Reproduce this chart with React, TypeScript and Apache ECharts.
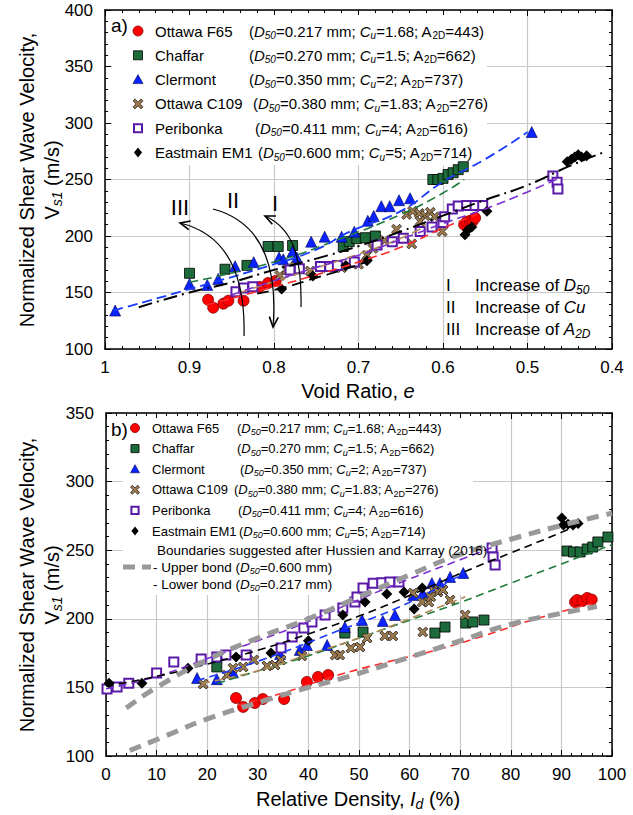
import React, { useEffect, useRef } from "react";
import * as echarts from "echarts";

const FONT = '"Liberation Sans", Arial, sans-serif';

// ---------- Panel a) : Vs1 vs void ratio e ----------
const eF65 = [[0.878,143.6],[0.872,136.6],[0.86,140.1],[0.854,142.7],[0.836,142.7],[0.817,154.9],[0.807,158.4],[0.798,160.2],[0.575,210],[0.572,212.5],[0.568,213.4],[0.565,213],[0.562,216]];
const eChaffar = [[0.9,167],[0.858,170.6],[0.832,174],[0.807,190.7],[0.795,190.7],[0.778,191.6],[0.718,190.7],[0.711,195],[0.702,197.7],[0.692,198.5],[0.68,200],[0.612,250],[0.606,250],[0.6,251],[0.594,254.4],[0.588,256],[0.582,258.7],[0.576,261.3]];
const eClermont = [[0.988,134],[0.9,157.6],[0.879,156.7],[0.866,162],[0.846,173.3],[0.824,176.8],[0.794,181],[0.789,179.4],[0.778,186.3],[0.773,181],[0.756,195],[0.74,199.4],[0.72,199.4],[0.705,203.8],[0.689,213.4],[0.682,217.7],[0.673,226.4],[0.663,226.4],[0.652,231.7],[0.639,233.4],[0.495,292]];
const eC109 = [[0.793,165],[0.785,170],[0.775,173],[0.757,169],[0.737,172],[0.72,172],[0.7,175],[0.69,183],[0.683,189],[0.669,196],[0.655,206],[0.643,219],[0.636,222],[0.628,220],[0.621,218],[0.615,221],[0.61,217],[0.637,193],[0.601,204],[0.627,213]];
const ePeribonka = [[0.845,150.6],[0.836,154],[0.825,155],[0.781,170],[0.77,171],[0.745,173],[0.734,173],[0.725,174],[0.705,177],[0.678,192],[0.66,195],[0.647,198],[0.627,204],[0.613,208],[0.6,212],[0.598,217],[0.589,224],[0.582,226.5],[0.572,227],[0.562,227],[0.553,227],[0.47,253],[0.465,247.6],[0.464,241.5]];
const eEastmain = [[0.791,153],[0.754,164.5],[0.715,174],[0.69,178],[0.574,201],[0.571,205],[0.566,208],[0.548,222],[0.453,265.7],[0.448,268],[0.444,270],[0.44,271.8],[0.436,270],[0.43,271]];

const eFitF65 = [[0.88,139],[0.8,155],[0.73,170],[0.7,177],[0.65,190],[0.6,207],[0.56,219]];
const eFitChaffar = [[0.9,159],[0.8,177],[0.72,198],[0.65,219],[0.6,238],[0.575,250]];
const eFitClermont = [[0.99,134],[0.9,153],[0.8,175],[0.75,188],[0.71,204],[0.65,222],[0.6,248],[0.55,268],[0.5,292]];
const eFitC109 = [[0.84,150],[0.77,167],[0.7,184],[0.65,198],[0.62,209]];
const eFitPeribonka = [[0.85,148],[0.76,170],[0.7,183],[0.65,197],[0.6,211],[0.55,224],[0.5,239],[0.46,252]];
const eFitEastmain = [[0.96,137],[0.9,150],[0.85,159],[0.8,170],[0.75,180],[0.7,191],[0.65,204],[0.6,218],[0.55,232],[0.5,245],[0.45,262],[0.41,274]];
const eFitLowerBlack = [[0.82,149],[0.79,154],[0.75,163],[0.71,172],[0.68,180]];

// ---------- Panel b) : Vs1 vs relative density Id ----------
const dF65 = [[25.7,142.3],[27.1,135.8],[29.4,138.6],[31,141.5],[35.2,141.5],[39.7,154],[41.9,157.6],[43.9,159],[92.7,212.2],[93.1,213.7],[94.2,213],[95.1,215.2],[96,214]];
const dChaffar = [[21.9,164.9],[47.2,189.6],[50.8,190.3],[65,189.6],[67,194],[71.1,196.9],[72.5,197.7],[74.7,199.1],[91.1,249.4],[92.4,248.7],[93.7,248.7],[95.1,250.9],[96.2,252.3],[97.2,256],[99.2,259.6]];
const dClermont = [[18,156.8],[21.9,156],[25.1,161],[34.4,174.3],[38.3,177.3],[39.7,180.9],[43.7,180.9],[47.2,194],[50.6,199.1],[54.7,198.4],[57.1,202.8],[60.7,217.3],[62.6,218.8],[64.4,226],[66,226],[68,230.5],[70.6,233.4]];
const dC109 = [[19.2,152.5],[23.9,159],[25.1,164],[27.1,164.9],[29.2,170],[31.8,165.6],[33.4,166.3],[34.6,170],[38.7,172.9],[45.3,173.6],[46.2,173.6],[48.4,178.7],[50.2,179.4],[51.6,186],[55.1,187.5],[56.7,187.5],[62.6,190.4],[71,202.8],[60.7,218.8],[62.5,212.2],[63.8,212.2],[64.6,221],[65.6,219.5],[66.6,221],[68,213.7],[64.2,216]];
const dPeribonka = [[0.2,148.8],[2.2,150.3],[4.5,153],[10,160.5],[13.4,168.5],[18.8,170.7],[21.9,172.2],[23.7,173.6],[27.7,173.6],[34.6,178.7],[36.8,186.7],[39.1,193.3],[40.7,197.7],[43.3,202.8],[46.8,207.9],[49.2,212.2],[49.6,215.9],[50.8,222.4],[52.8,226],[54.5,226.3],[56.1,226.8],[57.9,226.8],[76.3,251.6],[76.5,245],[76.9,239.2]];
const dEastmain = [[0.6,153],[7.1,153],[16.2,164],[25.7,172.2],[32.6,175],[40,184],[46.8,202.8],[51.2,212.2],[55.5,218.1],[58.9,219.5],[60.9,207.1],[62.5,222.4],[90.1,273.5],[90.4,268.4],[91.3,268.9],[92.3,268.4],[93.3,269.5]];

const dFitF65 = [[26,137],[35,146],[45,158],[55,168],[65,177],[75,188],[85,200],[96,211]];
const dFitChaffar = [[22,153],[30,162],[40,173],[50,186],[60,199],[70,212],[80,226],[90,240],[100,254]];
const dFitClermont = [[18,155],[30,169],[45,190],[60,212],[71,234]];
const dFitC109 = [[19,153],[30,162],[40,174],[50,186],[60,200],[71,216]];
const dFitPeribonka = [[0,149],[10,158],[20,171],[30,184],[40,198],[50,214],[60,229],[70,243],[77,253]];
const dFitEastmain = [[0,151],[10,158],[20,167],[30,177],[40,189],[50,202],[60,217],[70,233],[80,248],[90,263],[93,268]];
const dUpperBound = [[4,135],[10,150],[20,170],[30,186],[40,200],[50,216],[60,232],[70,247],[80,258],[90,268],[100,277]];
const dLowerBound = [[4.7,104],[12,115],[20,127],[31,140],[40,150],[48,158],[60,172],[70,184],[80,196],[90,204],[97,209]];

const C = {
  red: "#ff0000",
  green: "#1d6b3a",
  blue: "#0a22ff",
  brown: "#9c7a4c",
  purple: "#5a1aa8",
  black: "#000000",
};
const FIT = {
  red: "#ff2a2a",
  green: "#1e7a3c",
  blue: "#1a3cff",
  brown: "#b08a5a",
  purple: "#7b2fd0",
};

const XPATH = "path://M2,0 L5,3 L8,0 L10,2 L7,5 L10,8 L8,10 L5,7 L2,10 L0,8 L3,5 L0,2 Z";
const XPTS = [[2,0],[5,3],[8,0],[10,2],[7,5],[10,8],[8,10],[5,7],[2,10],[0,8],[3,5],[0,2]];

function makeAxes(gi: number, min: number, max: number, interval: number, isX: boolean, inverse: boolean, fmt?: (v: number) => string) {
  const common = {
    gridIndex: gi,
    type: "value",
    min,
    max,
    interval,
    inverse,
    axisLine: { show: true, onZero: false, lineStyle: { color: "#000", width: 1.5 } },
    axisTick: { show: true, inside: true, length: 6, lineStyle: { color: "#000", width: 1 } },
    minorTick: { show: true, splitNumber: 5, length: 3, lineStyle: { color: "#000", width: 1 } },
  };
  const main = {
    ...common,
    position: isX ? "bottom" : "left",
    axisLabel: {
      show: true,
      fontFamily: FONT,
      fontSize: 17,
      color: "#000",
      margin: isX ? 10 : 12,
      formatter: fmt,
    },
    splitLine: { show: true, lineStyle: { color: "#c8c8c8", width: 1.2 } },
  };
  const mirror = {
    ...common,
    position: isX ? "top" : "right",
    axisLabel: { show: false },
    splitLine: { show: false },
  };
  return [main, mirror];
}

function scatter(name: string, data: number[][], xi: number, yi: number, symbol: string, size: number, color: string, border: string, bw: number) {
  return {
    name,
    type: "scatter",
    xAxisIndex: xi,
    yAxisIndex: yi,
    data,
    symbol,
    symbolSize: size,
    itemStyle: { color, borderColor: border, borderWidth: bw, opacity: 1 },
    z: 3,
  };
}

function fit(data: number[][], xi: number, yi: number, color: string, width: number, dash: any, z = 4) {
  return {
    type: "line",
    xAxisIndex: xi,
    yAxisIndex: yi,
    data,
    smooth: true,
    symbol: "none",
    showSymbol: false,
    silent: true,
    lineStyle: { color, width, type: dash, cap: "butt" },
    z,
  };
}

function legendSymbol(kind: string, cx: number, cy: number, s: number): any {
  const h = s / 2;
  switch (kind) {
    case "circle":
      return { type: "circle", shape: { cx, cy, r: h }, style: { fill: C.red, stroke: "#800000", lineWidth: 0.8 }, z: 10 };
    case "square":
      return { type: "rect", shape: { x: cx - h * 0.9, y: cy - h * 0.9, width: s * 0.9, height: s * 0.9 }, style: { fill: C.green, stroke: "#000", lineWidth: 0.8 }, z: 10 };
    case "triangle":
      return { type: "polygon", shape: { points: [[cx, cy - h], [cx + h, cy + h * 0.8], [cx - h, cy + h * 0.8]] }, style: { fill: C.blue, stroke: "#000050", lineWidth: 0.6 }, z: 10 };
    case "x":
      return { type: "polygon", shape: { points: XPTS.map(([a, b]) => [cx - h + (a / 10) * s, cy - h + (b / 10) * s]) }, style: { fill: C.brown, stroke: "#222", lineWidth: 0.8 }, z: 10 };
    case "hollow":
      return { type: "rect", shape: { x: cx - h * 0.8, y: cy - h * 0.8, width: s * 0.8, height: s * 0.8 }, style: { fill: "#fff", stroke: C.purple, lineWidth: 2 }, z: 10 };
    default:
      return { type: "polygon", shape: { points: [[cx, cy - h], [cx + h * 0.8, cy], [cx, cy + h], [cx - h * 0.8, cy]] }, style: { fill: "#000" }, z: 10 };
  }
}

function richStyles(fs: number) {
  const sub = Math.round(fs * 0.68);
  return {
    n: { fontFamily: FONT, fontSize: fs, color: "#000", lineHeight: fs + 4 },
    i: { fontFamily: FONT, fontSize: fs, fontStyle: "italic", color: "#000", lineHeight: fs + 4 },
    s: { fontFamily: FONT, fontSize: sub, color: "#000", verticalAlign: "bottom", lineHeight: sub },
    si: { fontFamily: FONT, fontSize: sub, fontStyle: "italic", color: "#000", verticalAlign: "bottom", lineHeight: sub },
  };
}

function text(x: number, y: number, str: string, fs: number, extra: any = {}): any {
  return {
    type: "text",
    x,
    y,
    z: 10,
    ...extra,
    style: {
      text: str,
      rich: richStyles(fs),
      fontFamily: FONT,
      fontSize: fs,
      fill: "#000",
      align: "left",
      verticalAlign: "middle",
      ...(extra.style || {}),
    },
  };
}

function propsText(d50: string, cu: string, a2d: string) {
  return `{n|(}{i|D}{si|50}{n|=${d50} mm; }{i|C}{si|u}{n|=${cu}; A}{s|2D}{n|=${a2d})}`;
}

const legendRows = [
  { kind: "circle", name: "Ottawa F65", d50: "0.217", cu: "1.68", a2d: "443" },
  { kind: "square", name: "Chaffar", d50: "0.270", cu: "1.5", a2d: "662" },
  { kind: "triangle", name: "Clermont", d50: "0.350", cu: "2", a2d: "737" },
  { kind: "x", name: "Ottawa C109", d50: "0.380", cu: "1.83", a2d: "276" },
  { kind: "hollow", name: "Peribonka", d50: "0.411", cu: "4", a2d: "616" },
  { kind: "diamond", name: "Eastmain EM1", d50: "0.600", cu: "5", a2d: "714" },
];
const topParenX = [249, 249, 249, 253, 255, 258];
const botParenX = [237, 237, 240, 234, 238, 239];

function arrowHead(tx: number, ty: number, fx: number, fy: number, len = 11, ang = 0.42): any {
  const a = Math.atan2(ty - fy, tx - fx);
  return {
    type: "polyline",
    z: 10,
    shape: {
      points: [
        [tx - len * Math.cos(a - ang), ty - len * Math.sin(a - ang)],
        [tx, ty],
        [tx - len * Math.cos(a + ang), ty - len * Math.sin(a + ang)],
      ],
    },
    style: { stroke: "#000", lineWidth: 1.6, fill: null },
  };
}

function curve(x1: number, y1: number, c1x: number, c1y: number, c2x: number, c2y: number, x2: number, y2: number): any[] {
  return [
    {
      type: "bezierCurve",
      z: 10,
      shape: { x1, y1, cpx1: c1x, cpy1: c1y, cpx2: c2x, cpy2: c2y, x2, y2 },
      style: { stroke: "#000", lineWidth: 1.2, fill: null },
    },
    arrowHead(x2, y2, c2x, c2y),
  ];
}

function buildGraphic(): any[] {
  const els: any[] = [];
  // legend backgrounds
  els.push({ type: "rect", z: 1, shape: { x: 112, y: 15, width: 375, height: 150 }, style: { fill: "#fff" } });
  els.push({ type: "rect", z: 1, shape: { x: 123, y: 418, width: 350, height: 177 }, style: { fill: "#fff" } });

  // top legend
  els.push(text(111, 25, "{n|a)}", 19, { style: { rich: { n: { fontFamily: FONT, fontSize: 19, color: "#000" } } } }));
  legendRows.forEach((r, k) => {
    const y = 31 + k * 24.3;
    els.push(legendSymbol(r.kind, 138, y, 10));
    els.push(text(155, y, `{n|${r.name}}`, 15));
    els.push(text(topParenX[k], y, propsText(r.d50, r.cu, r.a2d), 15));
  });

  // bottom legend
  els.push(text(111, 429, "{n|b)}", 19, { style: { rich: { n: { fontFamily: FONT, fontSize: 19, color: "#000" } } } }));
  legendRows.forEach((r, k) => {
    const y = 428 + k * 20.6;
    els.push(legendSymbol(r.kind, 135, y, 9));
    els.push(text(152, y, `{n|${r.name}}`, 13));
    els.push(text(botParenX[k], y, propsText(r.d50, r.cu, r.a2d), 13));
  });
  els.push(text(157, 550, "{n|Boundaries suggested after Hussien and Karray (2016)}", 13.5));
  els.push({ type: "line", z: 10, shape: { x1: 123, y1: 567, x2: 151, y2: 567 }, style: { stroke: "#999", lineWidth: 5, lineDash: [12, 7] } });
  els.push(text(153, 567, "{n|- Upper bond (}{i|D}{si|50}{n|=0.600 mm)}", 13.5));
  els.push(text(153, 584, "{n|- Lower bond (}{i|D}{si|50}{n|=0.217 mm)}", 13.5));

  // annotation list in top panel
  els.push(text(446, 285, "{n|I}", 17));
  els.push(text(446, 307, "{n|II}", 17));
  els.push(text(446, 329, "{n|III}", 17));
  els.push(text(475, 285, "{n|Increase of }{i|D}{si|50}", 17));
  els.push(text(475, 307, "{n|Increase of }{i|Cu}", 17));
  els.push(text(475, 329, "{n|Increase of }{i|A}{si|2D}", 17));

  // arrow labels
  els.push(text(180, 207, "{n|III}", 22, { style: { align: "center" } }));
  els.push(text(233, 200, "{n|II}", 22, { style: { align: "center" } }));
  els.push(text(275, 203, "{n|I}", 22, { style: { align: "center" } }));

  // curved arrows
  els.push(...curve(244, 336, 246, 262, 218, 232, 180, 223));
  els.push(...curve(213, 209, 262, 222, 278, 265, 273, 327));
  els.push(...curve(301, 307, 302, 255, 292, 228, 265, 216));

  // y axis titles
  const ytitle = (cy: number) => [
    text(27, cy, "{n|Normalized Shear Wave Velocity,}", 20, { rotation: Math.PI / 2, style: { align: "center" } }),
    text(52, cy, "{n|V}{si|s1}{n| (m/s)}", 20, { rotation: Math.PI / 2, style: { align: "center" } }),
  ];
  els.push(...ytitle(180));
  els.push(...ytitle(585));

  // x axis titles
  els.push(text(358, 391, "{n|Void Ratio, }{i|e}", 20, { style: { align: "center" } }));
  els.push(text(358, 799, "{n|Relative Density, }{i|I}{si|d}{n| (%)}", 20, { style: { align: "center" } }));
  return els;
}

export default function App() {
  const ref = useRef<HTMLDivElement>(null);
  useEffect(() => {
    if (!ref.current) return;
    const chart = echarts.init(ref.current, null, { renderer: "svg" });
    const fmtTop = (v: number) => String(Math.round(v * 10) / 10);
    const [xa0, xa1] = makeAxes(0, 0.4, 1, 0.1, true, true, fmtTop);
    const [ya0, ya1] = makeAxes(0, 100, 400, 50, false, false);
    const [xb0, xb1] = makeAxes(1, 0, 100, 10, true, false);
    const [yb0, yb1] = makeAxes(1, 100, 350, 50, false, false);

    const option: any = {
      animation: false,
      backgroundColor: "#fff",
      textStyle: { fontFamily: FONT },
      grid: [
        { left: 105, top: 10, width: 507, height: 339, outerBoundsMode: "none", containLabel: false },
        { left: 106, top: 413, width: 506, height: 343, outerBoundsMode: "none", containLabel: false },
      ],
      xAxis: [xa0, xa1, xb0, xb1],
      yAxis: [ya0, ya1, yb0, yb1],
      series: [
        // top panel
        scatter("Ottawa F65", eF65, 0, 0, "circle", 11, C.red, "#800000", 0.8),
        scatter("Chaffar", eChaffar, 0, 0, "rect", 10, C.green, "#000", 0.8),
        scatter("Clermont", eClermont, 0, 0, "triangle", 11, C.blue, "#000050", 0.6),
        scatter("Ottawa C109", eC109, 0, 0, XPATH, 10, C.brown, "#222", 0.8),
        scatter("Peribonka", ePeribonka, 0, 0, "rect", 9, "#fff", C.purple, 2),
        scatter("Eastmain EM1", eEastmain, 0, 0, "diamond", 11, C.black, "#000", 0),
        fit(eFitF65, 0, 0, FIT.red, 1.6, [9, 5]),
        fit(eFitChaffar, 0, 0, FIT.green, 1.6, [9, 5]),
        fit(eFitClermont, 0, 0, FIT.blue, 1.8, [10, 5]),
        fit(eFitC109, 0, 0, FIT.brown, 1.6, [9, 5]),
        fit(eFitPeribonka, 0, 0, FIT.purple, 1.6, [9, 5]),
        fit(eFitEastmain, 0, 0, "#000", 2, [14, 5, 2, 5]),
        fit(eFitLowerBlack, 0, 0, "#000", 1.8, [12, 6]),
        // bottom panel
        scatter("Ottawa F65 b", dF65, 2, 2, "circle", 11, C.red, "#800000", 0.8),
        scatter("Chaffar b", dChaffar, 2, 2, "rect", 10, C.green, "#000", 0.8),
        scatter("Clermont b", dClermont, 2, 2, "triangle", 11, C.blue, "#000050", 0.6),
        scatter("Ottawa C109 b", dC109, 2, 2, XPATH, 10, C.brown, "#222", 0.8),
        scatter("Peribonka b", dPeribonka, 2, 2, "rect", 9, "#fff", C.purple, 2),
        scatter("Eastmain EM1 b", dEastmain, 2, 2, "diamond", 11, C.black, "#000", 0),
        fit(dFitF65, 2, 2, FIT.red, 1.6, [8, 5]),
        fit(dFitChaffar, 2, 2, FIT.green, 1.6, [8, 5]),
        fit(dFitClermont, 2, 2, FIT.blue, 1.6, [8, 5]),
        fit(dFitC109, 2, 2, FIT.brown, 1.6, [8, 5]),
        fit(dFitPeribonka, 2, 2, FIT.purple, 1.6, [8, 5]),
        fit(dFitEastmain, 2, 2, "#000", 1.6, [8, 5]),
        fit(dUpperBound, 2, 2, "#999", 5, [12, 8], 5),
        fit(dLowerBound, 2, 2, "#999", 5, [12, 8], 5),
      ],
      graphic: { elements: buildGraphic() },
    };
    chart.setOption(option);
    return () => chart.dispose();
  }, []);
  return (
    <div
      ref={ref}
      style={{ position: "fixed", left: 0, top: 0, width: 633, height: 815, background: "#fff" }}
    />
  );
}
